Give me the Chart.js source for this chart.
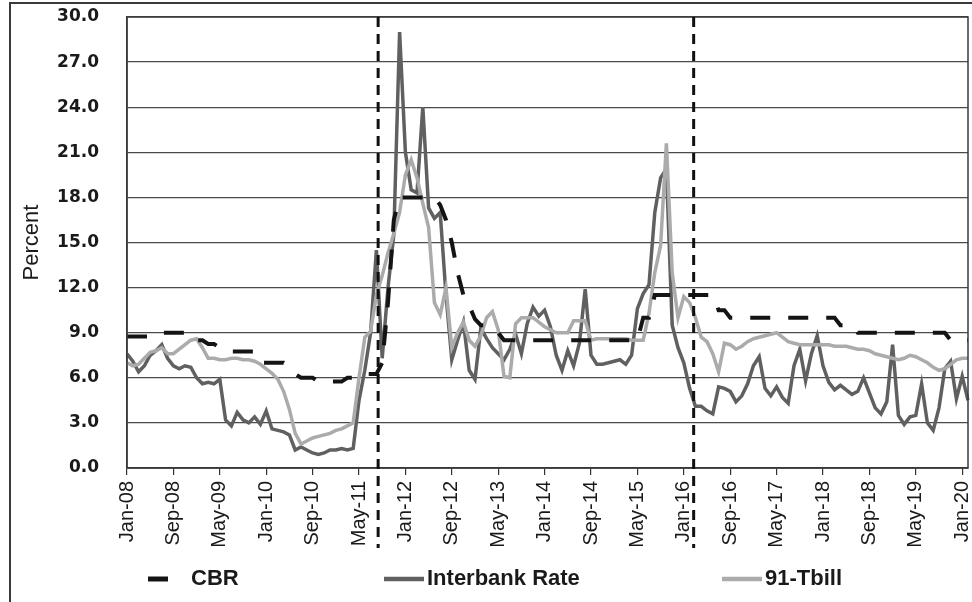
<!DOCTYPE html>
<html>
<head>
<meta charset="utf-8">
<script src="https://cdn.jsdelivr.net/npm/chart.js@4.4.1/dist/chart.umd.min.js"></script>
<style>
    body { margin: 0; background: #fff; }
    #wrap { width: 972px; height: 602px; }
</style>
</head>
<body>
<div id="wrap"><canvas id="rates_chart" width="972" height="602"></canvas></div>
<script>
const monthNames = ['Jan','Feb','Mar','Apr','May','Jun','Jul','Aug','Sep','Oct','Nov','Dec']
let months = []
for (let y = 2008; y <= 2020; y++) {
    for (let m = 0; m < 12; m++) {
        if (y == 2020 && m > 1) break
        months.push(`${monthNames[m]}-${String(y).slice(2)}`)
    }
}

const tickLabels = ['Jan-08','Sep-08','May-09','Jan-10','Sep-10','May-11','Jan-12','Sep-12','May-13',
    'Jan-14','Sep-14','May-15','Jan-16','Sep-16','May-17','Jan-18','Sep-18','May-19','Jan-20']

// one row per year, Jan..Dec (2020: Jan, Feb)
const cbr = [
    8.75, 8.75, 8.75, 8.75, 8.75, 9.0, 9.0, 9.0, 9.0, 9.0, 9.0, 8.5,
    8.5, 8.5, 8.25, 8.25, 8.0, 7.75, 7.75, 7.75, 7.75, 7.75, 7.75, 7.0,
    7.0, 7.0, 7.0, 7.0, 6.75, 6.25, 6.0, 6.0, 6.0, 5.75, 5.75, 5.75,
    5.75, 5.75, 6.0, 6.0, 6.25, 6.25, 6.25, 6.25, 7.0, 11.0, 16.5, 18.0,
    18.0, 18.0, 18.0, 18.0, 18.0, 18.0, 17.5, 16.5, 15.0, 13.0, 11.5, 10.8,
    9.9, 9.5, 9.5, 9.3, 9.0, 8.5, 8.5, 8.5, 8.5, 8.5, 8.5, 8.5,
    8.5, 8.5, 8.5, 8.5, 8.5, 8.5, 8.5, 8.5, 8.5, 8.5, 8.5, 8.5,
    8.5, 8.5, 8.5, 8.5, 8.5, 10.0, 10.0, 11.5, 11.5, 11.5, 11.5, 11.5,
    11.5, 11.5, 11.5, 11.5, 11.5, 11.5, 10.5, 10.5, 10.0, 10.0, 10.0, 10.0,
    10.0, 10.0, 10.0, 10.0, 10.0, 10.0, 10.0, 10.0, 10.0, 10.0, 10.0, 10.0,
    10.0, 10.0, 10.0, 9.5, 9.5, 9.5, 9.0, 9.0, 9.0, 9.0, 9.0, 9.0,
    9.0, 9.0, 9.0, 9.0, 9.0, 9.0, 9.0, 9.0, 9.0, 9.0, 8.5, 8.5,
    8.5, 8.5
]

const interbank = [
    7.6, 7.1, 6.4, 6.8, 7.5, 7.8, 8.2, 7.3, 6.8, 6.6, 6.8, 6.7,
    6.0, 5.6, 5.7, 5.6, 5.9, 3.2, 2.8, 3.7, 3.2, 3.0, 3.4, 2.9,
    3.8, 2.6, 2.5, 2.4, 2.2, 1.2, 1.4, 1.2, 1.0, 0.9, 1.0, 1.2,
    1.2, 1.3, 1.2, 1.3, 4.5, 6.5, 9.0, 14.5, 7.3, 12.0, 15.5, 29.0,
    21.0, 18.5, 18.3, 24.0, 17.3, 16.6, 17.0, 11.5, 7.2, 8.5, 9.7, 6.5,
    5.9, 9.3, 8.6, 8.0, 7.6, 7.2, 7.9, 8.9, 7.6, 9.6, 10.7, 10.1,
    10.5, 9.4, 7.5, 6.5, 7.8, 6.8, 8.3, 11.9, 7.5, 6.9, 6.9, 7.0,
    7.1, 7.2, 6.9, 7.5, 10.6, 11.6, 12.2, 17.0, 19.3, 19.9, 9.5, 8.0,
    7.0, 5.3, 4.1, 4.1, 3.8, 3.6, 5.4, 5.3, 5.1, 4.4, 4.8, 5.6,
    6.8, 7.4, 5.3, 4.8, 5.4, 4.7, 4.3, 6.8, 7.9, 5.8, 7.6, 8.8,
    6.8, 5.7, 5.2, 5.5, 5.2, 4.9, 5.1, 6.0, 5.0, 4.0, 3.6, 4.4,
    8.2, 3.5, 2.9, 3.4, 3.5, 5.6, 3.0, 2.5, 4.0, 6.6, 7.1, 4.6,
    6.1, 4.5
]

const tbill = [
    7.0, 6.8, 6.9, 7.3, 7.7, 7.8, 8.0, 7.6, 7.6, 7.9, 8.2, 8.5,
    8.6, 8.0, 7.3, 7.3, 7.2, 7.2, 7.3, 7.3, 7.2, 7.2, 7.1, 6.9,
    6.6, 6.3, 5.9, 5.1, 3.9, 2.3, 1.6, 1.8, 2.0, 2.1, 2.2, 2.3,
    2.5, 2.6, 2.8, 3.0, 6.0, 8.7, 9.1, 11.5, 12.8, 14.3, 15.6, 17.0,
    19.5, 20.5, 19.3, 17.6, 16.0, 11.0, 10.2, 12.0, 8.0, 9.0, 9.7, 8.5,
    8.1, 8.8, 10.0, 10.4, 9.2, 6.1, 6.0, 9.6, 10.0, 10.0, 10.0, 9.7,
    9.4, 9.2, 9.0, 9.0, 9.0, 9.8, 9.8, 9.8, 8.5, 8.6, 8.6, 8.6,
    8.6, 8.6, 8.6, 8.5, 8.5, 8.5, 10.3, 13.0, 14.8, 21.6, 13.0, 10.0,
    11.4, 11.0, 10.0, 8.7, 8.4, 7.6, 6.4, 8.3, 8.2, 7.9, 8.1, 8.4,
    8.6, 8.7, 8.8, 8.9, 9.0, 8.7, 8.4, 8.3, 8.2, 8.2, 8.2, 8.2,
    8.2, 8.2, 8.1, 8.1, 8.1, 8.0, 7.9, 7.9, 7.8, 7.6, 7.5, 7.4,
    7.3, 7.2, 7.3, 7.5, 7.4, 7.2, 7.0, 6.7, 6.5, 6.6, 6.9, 7.2,
    7.3, 7.3
]

// dashed regime markers, in month index (Aug-11 .. Feb-16, fractional)
const breakMonths = [43.3, 97.7]

const series = [
    { label: 'CBR', data: cbr, borderColor: '#141414', borderWidth: 4, borderDash: [20, 18], order: 0 },
    { label: 'Interbank Rate', data: interbank, borderColor: '#606060', borderWidth: 3.5, borderDash: [], order: 2 },
    { label: '91-Tbill', data: tbill, borderColor: '#ababab', borderWidth: 3.5, borderDash: [], order: 1 },
]

const legendPos = [148, 384, 722]

const framePlugin = {
    id: 'frame',
    beforeDraw(chart) {
        const ctx = chart.ctx
        ctx.save()
        ctx.fillStyle = '#fff'
        ctx.fillRect(0, 0, chart.width, chart.height)
        ctx.restore()
    },
    afterDraw(chart) {
        const ctx = chart.ctx
        const area = chart.chartArea
        const xScale = chart.scales.x
        ctx.save()
        // outer border of the figure
        ctx.strokeStyle = '#3a3a3a'
        ctx.lineWidth = 2
        ctx.beginPath()
        ctx.moveTo(10, chart.height + 5)
        ctx.lineTo(10, 3)
        ctx.lineTo(chart.width + 5, 3)
        ctx.stroke()
        // plot frame
        ctx.strokeStyle = '#3a3a3a'
        ctx.lineWidth = 1.5
        ctx.strokeRect(area.left, area.top, area.right - area.left, area.bottom - area.top)
        // vertical dashed markers
        ctx.strokeStyle = '#111'
        ctx.lineWidth = 3
        ctx.setLineDash([10, 7])
        breakMonths.forEach((m) => {
            const x = xScale.getPixelForValue(m)
            ctx.beginPath()
            ctx.moveTo(x, area.top)
            ctx.lineTo(x, area.bottom + 80)
            ctx.stroke()
        })
        // legend
        ctx.font = 'bold 22px "Liberation Sans"'
        ctx.textBaseline = 'middle'
        ctx.fillStyle = '#1a1a1a'
        const ly = 579
        for (let i = 0; i < series.length; i++) {
            const s = series[i]
            const x = legendPos[i]
            const len = s.borderDash.length ? s.borderDash[0] : 40
            ctx.strokeStyle = s.borderColor
            ctx.lineWidth = s.borderWidth + 1
            ctx.setLineDash([])
            ctx.beginPath()
            ctx.moveTo(x, ly)
            ctx.lineTo(x + len, ly)
            ctx.stroke()
            ctx.fillText(s.label, x + 43, ly)
        }
        ctx.restore()
    }
}

const ctx = document.getElementById('rates_chart').getContext('2d')
new Chart(ctx, {
    type: 'line',
    data: {
        labels: months,
        datasets: series.map((s) => ({
            label: s.label,
            data: s.data,
            borderColor: s.borderColor,
            borderWidth: s.borderWidth,
            borderDash: s.borderDash,
            order: s.order,
            fill: false,
            pointRadius: 0,
            tension: 0
        }))
    },
    options: {
        responsive: false,
        animation: false,
        devicePixelRatio: 1,
        layout: { padding: { top: 17, right: 4, bottom: 0, left: 0 } },
        plugins: {
            legend: { display: false },
            tooltip: { enabled: false }
        },
        scales: {
            x: {
                grid: { drawOnChartArea: false, drawTicks: true, tickLength: 7, color: '#333', lineWidth: 1.2 },
                border: { color: '#333', width: 1.5 },
                ticks: {
                    autoSkip: false,
                    maxRotation: 90,
                    minRotation: 90,
                    padding: 6,
                    color: '#1a1a1a',
                    font: { family: 'Liberation Sans', size: 20 },
                    callback: function (value) {
                        const lab = this.getLabelForValue(value)
                        return tickLabels.includes(lab) ? lab : null
                    }
                },
                afterFit: (scale) => {
                    scale.height = 134
                    scale.paddingLeft = 0
                    scale.paddingRight = 0
                }
            },
            y: {
                min: 0,
                max: 30,
                grid: { color: '#4a4a4a', lineWidth: 1.2, drawTicks: false },
                border: { color: '#333', width: 1.5 },
                ticks: {
                    stepSize: 3,
                    padding: 28,
                    color: '#1a1a1a',
                    font: { family: 'DejaVu Sans', size: 17, weight: 'bold' },
                    callback: (v) => v.toFixed(1)
                },
                title: {
                    display: true,
                    text: 'Percent',
                    color: '#1a1a1a',
                    font: { family: 'Liberation Sans', size: 22 },
                    padding: { top: 19, bottom: 0 }
                },
                afterFit: (scale) => {
                    scale.width = 127
                    scale.paddingTop = 0
                    scale.paddingBottom = 0
                }
            }
        }
    },
    plugins: [framePlugin]
})
</script>
</body>
</html>
